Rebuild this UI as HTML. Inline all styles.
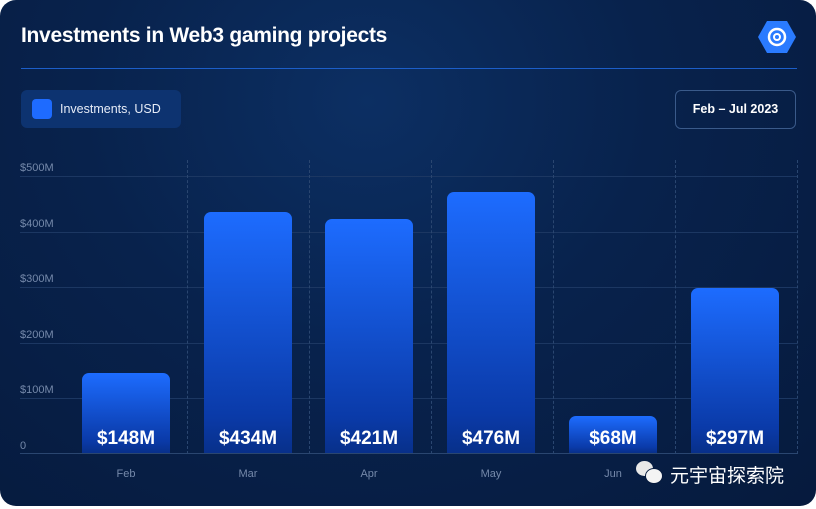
<!DOCTYPE html>
<html><head><style>
body{margin:0;background:#fff;width:816px;height:509px;overflow:hidden;font-family:"Liberation Sans",sans-serif}
.card{position:absolute;left:0;top:0;width:816px;height:506px;border-radius:16px;background:radial-gradient(ellipse at 45% 20%,#0c2f63 0%,#08224c 45%,#061a3d 100%);overflow:hidden}
.t{position:absolute;left:21px;top:24px;color:#fff;font-weight:bold;font-size:21px;letter-spacing:-0.3px}
.hr{position:absolute;left:21px;top:68px;width:776px;height:1px;background:#1c5ec9}
.leg{position:absolute;left:21px;top:90px;width:160px;height:38px;background:#0d3370;border-radius:6px}
.leg i{position:absolute;left:11px;top:9px;width:20px;height:20px;background:#1e6bff;border-radius:4px}
.leg span{position:absolute;left:39px;top:12px;color:#e6ecf7;font-size:12.5px}
.dt{position:absolute;left:675px;top:90px;width:119px;height:37px;border:1px solid #3a5a8a;border-radius:6px;color:#fff;font-weight:bold;font-size:12.5px;text-align:center;line-height:37px}
.yl{position:absolute;left:20px;color:#7589aa;font-size:11px}
.gl{position:absolute;left:20px;width:777px;height:1px;background:#1c3762}
.vl{position:absolute;top:160px;height:294px;border-left:1px dashed #2a4670}
.bar{position:absolute;width:88px;bottom:53px;border-radius:7px 7px 0 0;background:linear-gradient(#1d6cff,#0a3aa8 85%,#08308a)}
.bar b{position:absolute;bottom:3px;left:0;width:100%;text-align:center;color:#fff;font-size:19px}
.ml{position:absolute;top:468px;width:88px;text-align:center;color:#7589aa;font-size:11px}
</style></head><body>
<div class="card">
<div class="t">Investments in Web3 gaming projects</div>
<svg style="position:absolute;left:757px;top:20px" width="40" height="34" viewBox="0 0 40 34"><polygon points="10,1 30,1 39,17 30,33 10,33 1,17" fill="#2a7bff"/><circle cx="20" cy="17" r="8" fill="none" stroke="#fff" stroke-width="2.5"/><circle cx="20" cy="17" r="3" fill="none" stroke="#fff" stroke-width="2"/></svg>
<div class="hr"></div>
<div class="leg"><i></i><span>Investments, USD</span></div>
<div class="dt">Feb – Jul 2023</div>
<div class="gl" style="top:176px"></div><div class="gl" style="top:232px"></div><div class="gl" style="top:287px"></div><div class="gl" style="top:343px"></div><div class="gl" style="top:398px"></div><div class="gl" style="top:453px;background:#2a4670"></div>
<div class="yl" style="top:162px">$500M</div><div class="yl" style="top:218px">$400M</div><div class="yl" style="top:273px">$300M</div><div class="yl" style="top:329px">$200M</div><div class="yl" style="top:384px">$100M</div><div class="yl" style="top:440px">0</div>
<div class="vl" style="left:187px"></div><div class="vl" style="left:309px"></div><div class="vl" style="left:431px"></div><div class="vl" style="left:553px"></div><div class="vl" style="left:675px"></div><div class="vl" style="left:797px"></div>
<div class="bar" style="left:82px;height:80px"><b>$148M</b></div>
<div class="bar" style="left:204px;height:241px"><b>$434M</b></div>
<div class="bar" style="left:325px;height:234px"><b>$421M</b></div>
<div class="bar" style="left:447px;height:261px"><b>$476M</b></div>
<div class="bar" style="left:569px;height:37px"><b>$68M</b></div>
<div class="bar" style="left:691px;height:165px"><b>$297M</b></div>
<div class="ml" style="left:82px">Feb</div><div class="ml" style="left:204px">Mar</div><div class="ml" style="left:325px">Apr</div><div class="ml" style="left:447px">May</div><div class="ml" style="left:569px">Jun</div>
<div style="position:absolute;left:636px;top:461px;width:26px;height:22px"><div style="position:absolute;left:0;top:0;width:17px;height:15px;border-radius:50%;background:#e8e8e8"></div><div style="position:absolute;left:9px;top:7px;width:16px;height:14px;border-radius:50%;background:#f4f4f4;border:1px solid #061a3d"></div></div>
<div style="position:absolute;left:670px;top:461px;color:#fff;font-size:19px;font-family:'Liberation Sans','Noto Sans CJK SC',sans-serif">元宇宙探索院</div>
</div>
</body></html>
